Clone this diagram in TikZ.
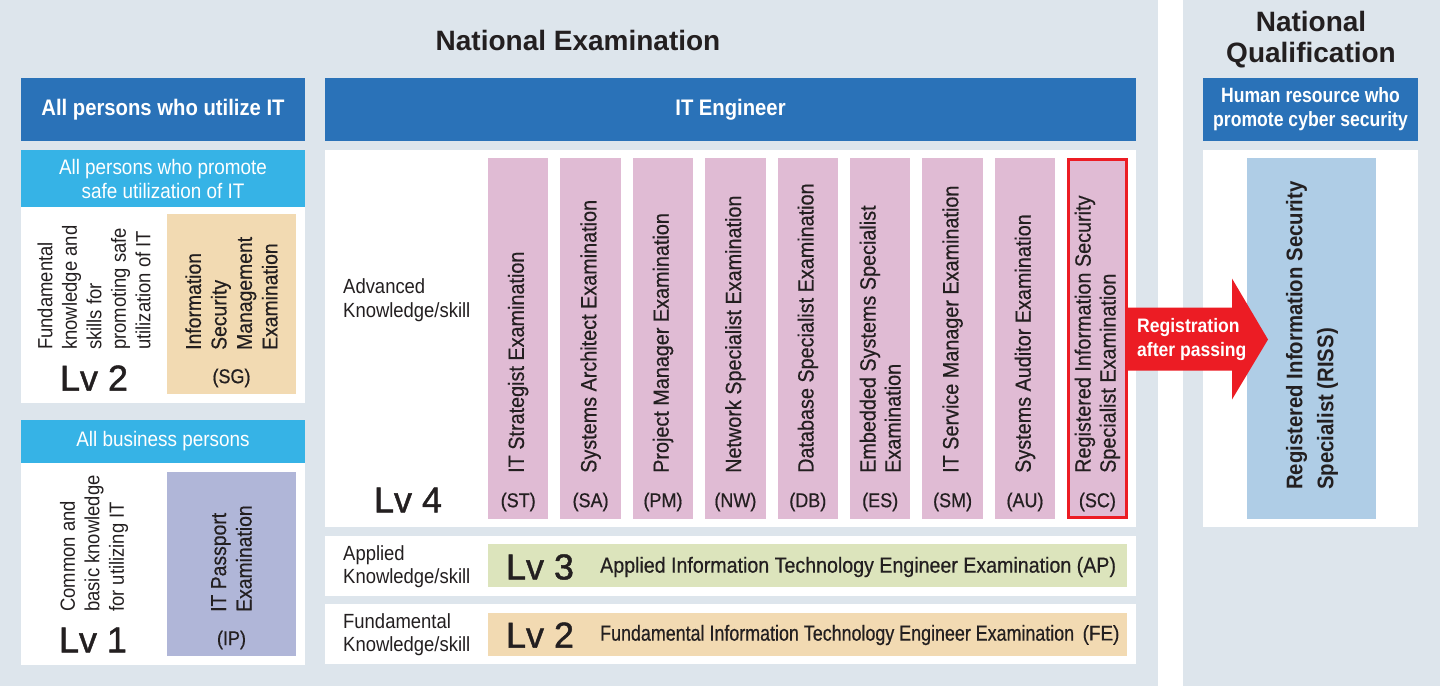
\documentclass[tikz,border=0pt]{standalone}
\usepackage{fontspec}
\setmainfont{Liberation Sans}[FakeStretch=0.9]
\newfontfamily\medfont{Liberation Sans}[FakeStretch=0.9,FakeBold=0.5]
\newfontfamily\titlefont{Liberation Sans}
\newfontfamily\lvfont{Liberation Sans}[FakeBold=1.2]
\usetikzlibrary{calc}
\definecolor{bgc}{HTML}{DDE5EC}
\definecolor{darkblue}{HTML}{2A72B8}
\definecolor{cyanhdr}{HTML}{36B3E6}
\definecolor{pinkc}{HTML}{E0BBD4}
\definecolor{tanc}{HTML}{F2DAB2}
\definecolor{lavc}{HTML}{B0B6D8}
\definecolor{greenc}{HTML}{DCE4BC}
\definecolor{rissc}{HTML}{AFCDE6}
\definecolor{redc}{HTML}{EC1C24}
\definecolor{inkc}{HTML}{231F20}
\newcommand\rbox[6]{\node[fill=#6, inner sep=0pt, outer sep=0pt, anchor=north west,
  minimum width={(#4)-(#2)}, minimum height={(#5)-(#3)}] (#1) at (#2,#3) {};}
\begin{document}
\begin{tikzpicture}[x=1pt,y=-1pt,
  title/.style={font=\titlefont\bfseries\fontsize{28}{31}\selectfont, text=inkc, align=center, inner sep=0pt},
  hdr/.style={font=\bfseries\fontsize{22.5}{24}\selectfont, text=white, align=center, inner sep=0pt},
  subhdr/.style={font=\fontsize{21}{24}\selectfont, text=white, align=center, inner sep=0pt},
  rtext/.style={rotate=90, anchor=west, inner sep=0pt, align=left, text=inkc, font=\fontsize{20.5}{24.5}\selectfont},
  ctext/.style={rotate=90, anchor=west, inner sep=0pt, align=left, text=inkc, font=\medfont\fontsize{22}{25}\selectfont},
  ltext/.style={anchor=west, inner sep=0pt, align=left, text=inkc, font=\fontsize{20.5}{23.5}\selectfont},
  code/.style={inner sep=0pt, text=inkc, font=\medfont\fontsize{20}{22}\selectfont},
  lv/.style={inner sep=0pt, text=inkc, font=\lvfont\fontsize{36}{38}\selectfont},
  wide/.style={anchor=west, inner sep=0pt, text=inkc, font=\medfont\fontsize{21.8}{24}\selectfont}]
\useasboundingbox (0,0) rectangle (1440,686);
% backgrounds
\fill[bgc] (0,0) rectangle (1158,686);
\fill[white] (1158,0) rectangle (1183,686);
\fill[bgc] (1183,0) rectangle (1440,686);
% titles
\node[title] (tNE) at (578,40) {National Examination};
\node[title] (tNQ) at (1311,40) {National\\Qualification};
% left column
\rbox{hAll}{21}{78}{305}{141}{darkblue}
\node[hdr] at (hAll) {All persons who utilize IT};
\rbox{hSafe}{21}{150}{305}{207}{cyanhdr}
\node[subhdr] at (hSafe) {All persons who promote\\safe utilization of IT};
\rbox{pSafe}{21}{207}{305}{403}{white}
\rbox{sg}{167}{214}{296}{394}{tanc}
\node[rtext] at (94,350) {Fundamental\\knowledge and\\skills for\\promoting safe\\utilization of IT};
\node[lv] at (94,378) {Lv 2};
\node[ctext, font=\medfont\fontsize{21.5}{25.5}\selectfont] at (sg.center |- 0,350) {Information\\Security\\Management\\Examination};
\node[code] at (sg.center |- 0,378) {(SG)};
\rbox{hBus}{21}{420}{305}{463}{cyanhdr}
\node[subhdr] at (hBus) {All business persons};
\rbox{pBus}{21}{463}{305}{665}{white}
\rbox{ip}{167}{472}{296}{656}{lavc}
\node[rtext] at (94,612) {Common and\\basic knowledge\\for utilizing IT};
\node[lv] at (93,640) {Lv 1};
\node[ctext, font=\medfont\fontsize{21.5}{25.5}\selectfont] at (ip.center |- 0,612) {IT Passport\\Examination};
\node[code] at (ip.center |- 0,640) {(IP)};
% IT engineer
\rbox{hIT}{325}{78}{1136}{141}{darkblue}
\node[hdr] at (hIT) {IT Engineer};
\rbox{p4}{325}{150}{1136}{527}{white}
\node[ltext] at (343,300) {Advanced\\Knowledge/skill};
\node[lv] at (408,500) {Lv 4};
\foreach \cd/\txt [count=\i from 0] in {ST/{IT Strategist Examination},SA/{Systems Architect Examination},PM/{Project Manager Examination},NW/{Network Specialist Examination},DB/{Database Specialist Examination},ES/{Embedded Systems Specialist\\Examination},SM/{IT Service Manager Examination},AU/{Systems Auditor Examination},SC/{Registered Information Security\\Specialist Examination}}{
  \node[fill=pinkc, inner sep=0pt, outer sep=0pt, minimum width=60.5, minimum height=361] (col\cd) at ({518.2+72.4*\i},338.5) {};
  \node[ctext] at (col\cd.center |- 0,473) {\txt};
  \node[code] at (col\cd.center |- 0,502) {(\cd)};
}
\draw[redc, line width=3pt] ($(colSC.north west)+(1.5,1.5)$) rectangle ($(colSC.south east)+(-1.5,-1.5)$);
% Lv3
\rbox{p3}{325}{536}{1136}{596}{white}
\rbox{ap}{488}{544}{1127}{587}{greenc}
\node[ltext] at (343,566.5) {Applied\\Knowledge/skill};
\node[lv] at (540,567) {Lv 3};
\node[wide] at (600,567) {Applied Information Technology Engineer Examination (AP)};
% Lv2
\rbox{p2}{325}{604}{1136}{664}{white}
\rbox{fe}{488}{613}{1127}{656}{tanc}
\node[ltext] at (343,634.5) {Fundamental\\Knowledge/skill};
\node[lv] at (540,635) {Lv 2};
\node[wide, font=\medfont\fontsize{21.8}{24}\selectfont\addfontfeature{FakeStretch=0.82}] at (600,635) {Fundamental Information Technology Engineer Examination};
\node[code, font=\medfont\fontsize{21}{24}\selectfont] at (1101,635) {(FE)};
% right panel
\rbox{hHR}{1203}{78}{1418}{141}{darkblue}
\node[hdr, font=\bfseries\fontsize{20.7}{24}\selectfont\addfontfeature{FakeStretch=0.85}] at (hHR) {Human resource who\\promote cyber security};
\rbox{pR}{1203}{150}{1418}{527}{white}
\rbox{riss}{1247}{158}{1376}{519}{rissc}
\node[rtext, font=\bfseries\fontsize{22.6}{31}\selectfont] at (1312,490) {Registered Information Security\\Specialist (RISS)};
% arrow
\fill[redc] ($(colSC.east)+(0,-31)$) -- ($(riss.west)+(-15,-31)$) -- ($(riss.west)+(-15,-60)$)
  -- ($(riss.west)+(21,1)$) -- ($(riss.west)+(-15,61)$) -- ($(riss.west)+(-15,32)$)
  -- ($(colSC.east)+(0,32)$) -- cycle;
\node[anchor=west, inner sep=0pt, align=left, text=white, font=\bfseries\fontsize{19.5}{24}\selectfont] (regtxt) at (1137,339) {Registration\\after passing};
\end{tikzpicture}
\end{document}
